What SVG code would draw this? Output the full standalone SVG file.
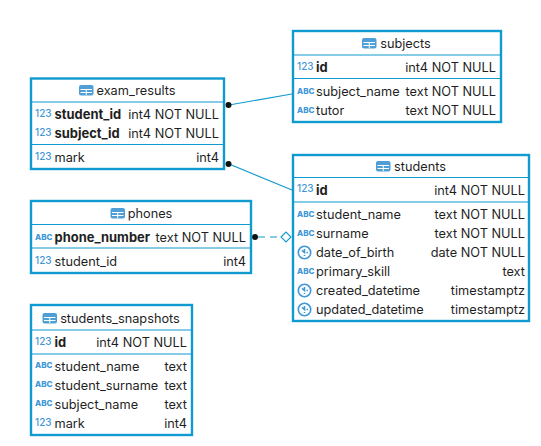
<svg xmlns="http://www.w3.org/2000/svg" width="541" height="446" viewBox="0 0 541 446">
<style>
text{font-family:"Inter","Liberation Sans",sans-serif;font-size:12.75px;fill:#1f1f1f}
.t{text-anchor:middle}
.b{font-weight:700;font-size:12.95px}
.r{text-anchor:end}
.n{font-size:10px;fill:#3f97d8;font-weight:500}
.a{font-size:8px;fill:#3f97d8;font-weight:800}
.box{fill:#fff;stroke:#0f9ad0;stroke-width:2.4}
.sep{stroke:#0f9ad0;stroke-width:1.1;fill:none}
.conn{stroke:#0f9ad0;stroke-width:1.1;fill:none}
.clock{fill:none;stroke:#3f97d8;stroke-width:1.6}
</style>
<defs>
<g id="tbl"><rect x="0" y="0" width="14.500" height="10.500" rx="2" fill="#4f9fd6"/><path d="M1.500 4.500H13M1.500 7.500H13M7.250 4.500V10" stroke="#fff" stroke-width="1" fill="none"/></g>
<g id="clk"><circle cx="7" cy="7" r="6.200" class="clock"/><path d="M7 3.500V7L4.500 4.800M10.500 7H9M7 10.500V9.500" class="clock" stroke-width="1.200"/></g>
</defs>
<g id="connectors">
<path class="conn" d="M229 105L292 94"/>
<path class="conn" d="M229 164L292 190"/>
<path class="conn" d="M258 237H281" stroke-dasharray="7 5"/>
<circle cx="228.500" cy="105" r="3" fill="#111"/>
<circle cx="228.500" cy="164" r="3" fill="#111"/>
<circle cx="255" cy="237" r="3" fill="#111"/>
<path d="M281 237L286 232L291 237L286 242Z" fill="#fff" stroke="#0f9ad0" stroke-width="1.100"/>
</g>
<g id="exam_results">
<rect class="box" x="31" y="78.500" width="193" height="90.500"/>
<path class="sep" d="M31 102H224M31 144.500H224"/>
<use href="#tbl" x="79" y="85"/>
<text class="t" x="136" y="95">exam_results</text>
<text class="n" x="35" y="117">123</text><text class="b" x="54.500" y="119">student_id</text><text class="r" x="219" y="119">int4 NOT NULL</text>
<text class="n" x="35" y="136">123</text><text class="b" x="54.500" y="138">subject_id</text><text class="r" x="219" y="138">int4 NOT NULL</text>
<text class="n" x="35" y="160">123</text><text x="54.500" y="162">mark</text><text class="r" x="219" y="162">int4</text>
</g>
<g id="subjects">
<rect class="box" x="293" y="31" width="208" height="91"/>
<path class="sep" d="M293 55H501M293 78.500H501"/>
<use href="#tbl" x="362" y="38"/>
<text class="t" x="405.500" y="48">subjects</text>
<text class="n" x="297" y="70">123</text><text class="b" x="316" y="72">id</text><text class="r" x="496" y="72">int4 NOT NULL</text>
<text class="a" x="297" y="94">ABC</text><text x="316" y="96">subject_name</text><text class="r" x="496" y="96">text NOT NULL</text>
<text class="a" x="297" y="113">ABC</text><text x="316" y="115">tutor</text><text class="r" x="496" y="115">text NOT NULL</text>
</g>
<g id="students">
<rect class="box" x="293" y="155" width="236" height="166"/>
<path class="sep" d="M293 177.500H529M293 202H529"/>
<use href="#tbl" x="376" y="161"/>
<text class="t" x="420" y="171">students</text>
<text class="n" x="297" y="192">123</text><text class="b" x="316" y="195">id</text><text class="r" x="525" y="195">int4 NOT NULL</text>
<text class="a" x="297" y="217">ABC</text><text x="316" y="219">student_name</text><text class="r" x="525" y="219">text NOT NULL</text>
<text class="a" x="297" y="236">ABC</text><text x="316" y="238">surname</text><text class="r" x="525" y="238">text NOT NULL</text>
<use href="#clk" x="297.500" y="245.500"/><text x="316" y="257">date_of_birth</text><text class="r" x="525" y="257">date NOT NULL</text>
<text class="a" x="297" y="274">ABC</text><text x="316" y="276">primary_skill</text><text class="r" x="525" y="276">text</text>
<use href="#clk" x="297.500" y="283.500"/><text x="316" y="295">created_datetime</text><text class="r" x="525" y="295">timestamptz</text>
<use href="#clk" x="297.500" y="302.500"/><text x="316" y="314">updated_datetime</text><text class="r" x="525" y="314">timestamptz</text>
</g>
<g id="phones">
<rect class="box" x="31" y="201" width="220" height="72"/>
<path class="sep" d="M31 224.500H251M31 248H251"/>
<use href="#tbl" x="110.500" y="208"/>
<text class="t" x="150" y="218">phones</text>
<text class="a" x="35" y="240">ABC</text><text class="b" x="54.500" y="242">phone_number</text><text class="r" x="246" y="242">text NOT NULL</text>
<text class="n" x="35" y="264">123</text><text x="54.500" y="266">student_id</text><text class="r" x="246" y="266">int4</text>
</g>
<g id="students_snapshots">
<rect class="box" x="31" y="305" width="161" height="130"/>
<path class="sep" d="M31 330H192M31 354H192"/>
<use href="#tbl" x="42.500" y="313"/>
<text class="t" x="120" y="323">students_snapshots</text>
<text class="n" x="35" y="345">123</text><text class="b" x="54.500" y="347">id</text><text class="r" x="187" y="347">int4 NOT NULL</text>
<text class="a" x="35" y="368">ABC</text><text x="54.500" y="371">student_name</text><text class="r" x="187" y="371">text</text>
<text class="a" x="35" y="387">ABC</text><text x="54.500" y="390">student_surname</text><text class="r" x="187" y="390">text</text>
<text class="a" x="35" y="406">ABC</text><text x="54.500" y="409">subject_name</text><text class="r" x="187" y="409">text</text>
<text class="n" x="35" y="426">123</text><text x="54.500" y="428">mark</text><text class="r" x="187" y="428">int4</text>
</g>
</svg>
